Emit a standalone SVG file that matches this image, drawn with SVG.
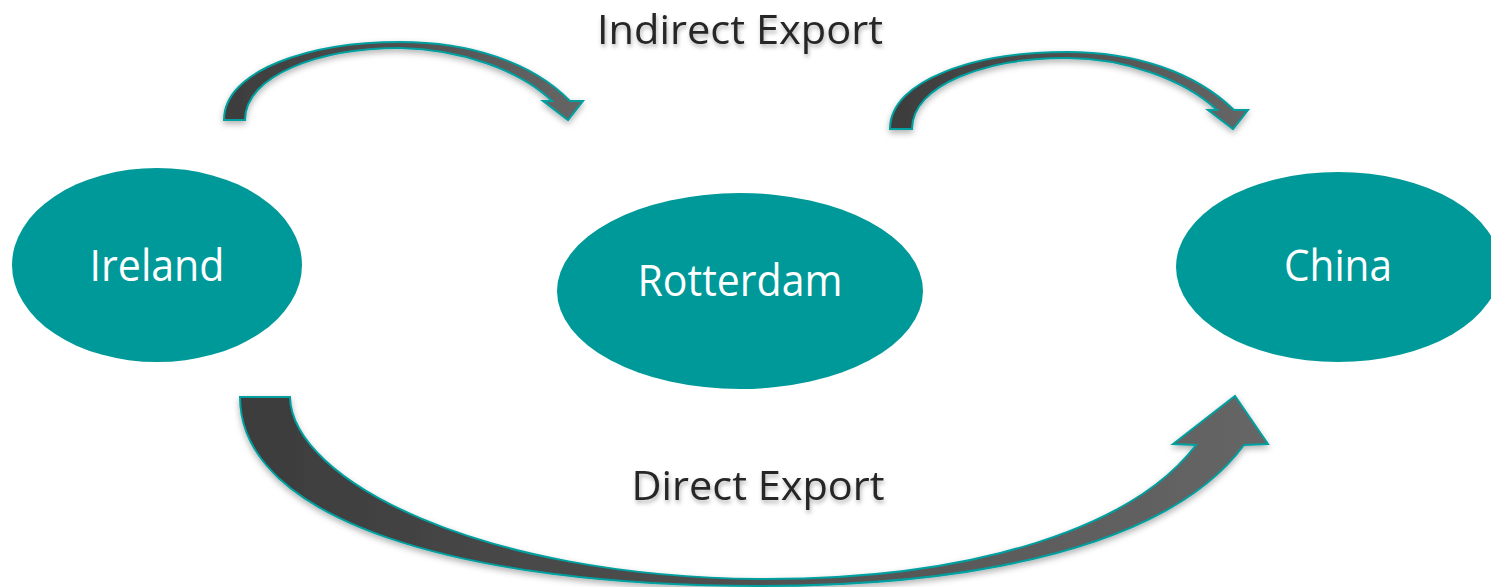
<svg xmlns="http://www.w3.org/2000/svg" width="1491" height="587" viewBox="0 0 1491 587">
<style>
.node{fill:#009999;}
.ntext{font-family:"Open Sans","Liberation Sans",sans-serif;font-size:44px;fill:#ffffff;text-anchor:middle;}
.ltext{font-family:"Open Sans","Liberation Sans",sans-serif;font-size:41px;fill:#262626;text-anchor:middle;filter:url(#tshadow);}
.arrow{fill:url(#agrad);stroke:#00a0a0;stroke-width:2;stroke-linejoin:miter;filter:url(#ashadow);}
</style>
<defs>
<linearGradient id="agrad" x1="0" y1="0" x2="1" y2="0">
<stop offset="0" stop-color="#3c3c3c"/>
<stop offset="1" stop-color="#666666"/>
</linearGradient>
<filter id="ashadow" x="-10%" y="-20%" width="120%" height="140%">
<feDropShadow dx="0" dy="3" stdDeviation="3" flood-color="#000" flood-opacity="0.3"/>
</filter>
<filter id="tshadow" x="-10%" y="-30%" width="120%" height="160%">
<feDropShadow dx="1" dy="3" stdDeviation="2" flood-color="#000" flood-opacity="0.3"/>
</filter>
</defs>
<rect width="1491" height="587" fill="#ffffff"/>
<g id="connectors">
<path class="arrow" d="M 224 120 C 224 70 310 42 400 42 C 470 42 532 62 570 101 L 583 101 L 568 120 L 543 101 L 552 101 C 520 70 460 49 400 48 C 320 48 245 75 245 120 Z"/>
<path class="arrow" d="M 890 129 C 890 80 975 52 1067 52 C 1135 52 1195 72 1234 110 L 1248 110 L 1233 129 L 1208 110 L 1217 110 C 1185 80 1125 58 1067 58 C 985 58 912 85 912 129 Z"/>
<path class="arrow" d="M 240 397 L 290 397 C 292 480 480 577 760 579 C 980 580 1135 525 1196 445 L 1173 444 L 1235 396 L 1268 444 L 1244 445 C 1170 545 980 586 760 586 C 460 586 240 520 240 397 Z"/>
<text class="ltext" x="740" y="44" textLength="286" lengthAdjust="spacingAndGlyphs">Indirect Export</text>
<text class="ltext" x="758" y="500" textLength="253" lengthAdjust="spacingAndGlyphs">Direct Export</text>
</g>
<g id="ireland">
<ellipse class="node" cx="157" cy="265" rx="145" ry="97"/>
<text class="ntext" x="157" y="281" textLength="135" lengthAdjust="spacingAndGlyphs">Ireland</text>
</g>
<g id="rotterdam">
<ellipse class="node" cx="740" cy="291" rx="183" ry="98"/>
<text class="ntext" x="740" y="296" textLength="205" lengthAdjust="spacingAndGlyphs">Rotterdam</text>
</g>
<g id="china">
<ellipse class="node" cx="1338" cy="267" rx="162" ry="95"/>
<text class="ntext" x="1338" y="281" textLength="108" lengthAdjust="spacingAndGlyphs">China</text>
</g>
</svg>
